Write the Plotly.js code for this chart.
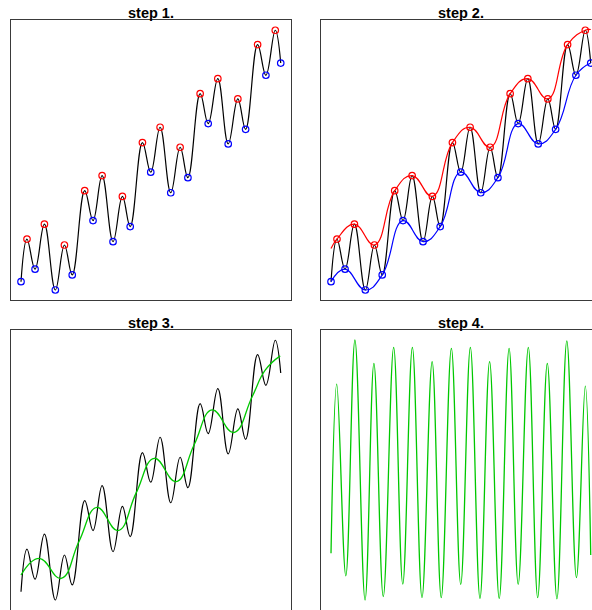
<!DOCTYPE html>
<html>
<head>
<meta charset="utf-8">
<script src="https://cdn.plot.ly/plotly-3.0.1.min.js"></script>
<style>
  html, body { margin: 0; padding: 0; overflow: hidden; background: #fff; }
  #chart { width: 602px; height: 611px; }
</style>
</head>
<body>
<div id="chart"></div>
<script>
// Signal extrema: local maxima (red) and local minima (blue), end points counted as minima
const maxT = [0.23, 0.90, 1.67, 2.45, 3.12, 3.90, 4.67, 5.35, 6.12, 6.89, 7.57, 8.34, 9.10, 9.78];
const maxY = [1.96, 2.53, 1.73, 3.82, 4.40, 3.60, 5.67, 6.26, 5.49, 7.55, 8.13, 7.35, 9.44, 9.99];
const minT = [0.00, 0.54, 1.32, 1.97, 2.77, 3.54, 4.20, 4.99, 5.76, 6.42, 7.20, 7.97, 8.64, 9.42, 9.99];
const minY = [0.32, 0.80, 0.00, 0.58, 2.67, 1.86, 2.44, 4.53, 3.74, 4.32, 6.40, 5.62, 6.18, 8.26, 8.73];

// Upper envelope values at the two ends of the record
const upperEndT = [0.00, 9.99];
const upperEndY = [1.60, 10.02];

// Mean of the two envelopes
const meanT = [0.00, 0.70, 1.54, 2.23, 2.92, 3.73, 4.43, 5.13, 5.96, 6.66, 7.35, 8.18, 8.89, 9.40, 9.97];
const meanY = [0.96, 1.60, 0.83, 2.25, 3.56, 2.67, 4.12, 5.45, 4.55, 5.97, 7.31, 6.44, 7.82, 8.85, 9.39];

// Detail left after removing the mean (start, alternating extrema, end)
const imfT = [0.00, 0.22, 0.57, 0.92, 1.31, 1.65, 2.01, 2.41, 2.76, 3.13, 3.50, 3.89, 4.24, 4.63,
              4.99, 5.36, 5.73, 6.10, 6.47, 6.85, 7.20, 7.59, 7.95, 8.32, 8.69, 9.07, 9.44, 9.78, 9.99];
const imfY = [-3.20, 3.30, -4.07, 5.00, -5.00, 4.10, -4.87, 4.72, -4.39, 4.72, -4.91, 4.17, -4.91, 4.68,
              -4.40, 4.72, -4.94, 4.17, -4.94, 4.68, -4.40, 4.72, -4.91, 4.10, -4.96, 4.97, -4.14, 3.23, -3.27];

const titles = ['step 1.', 'step 2.', 'step 3.', 'step 4.'];

// Full signal passes through every extremum in time order
const sigPts = maxT.map((t, i) => [t, maxY[i]]).concat(minT.map((t, i) => [t, minY[i]]))
  .sort((a, b) => a[0] - b[0]);
const sigT = sigPts.map(p => p[0]);
const sigY = sigPts.map(p => p[1]);

const upT = [upperEndT[0]].concat(maxT, [upperEndT[1]]);
const upY = [upperEndY[0]].concat(maxY, [upperEndY[1]]);

const BLACK = '#000000', RED = '#ff0000', BLUE = '#0000ff', GREEN = '#00c800';

function line(x, y, color, ax, smooth, width) {
  return {
    x: x, y: y, xaxis: 'x' + ax, yaxis: 'y' + ax, type: 'scatter', mode: 'lines',
    line: { color: color, width: width, shape: 'spline', smoothing: smooth },
    hoverinfo: 'skip', showlegend: false
  };
}
function rings(x, y, color, ax) {
  return {
    x: x, y: y, xaxis: 'x' + ax, yaxis: 'y' + ax, type: 'scatter', mode: 'markers',
    marker: { symbol: 'circle-open', size: 6.5, color: color, line: { width: 1.2, color: color } },
    hoverinfo: 'skip', showlegend: false
  };
}

const traces = [
  // step 1: signal with its extrema
  line(sigT, sigY, BLACK, '', 1.15, 1.2),
  rings(maxT, maxY, RED, ''),
  rings(minT, minY, BLUE, ''),
  // step 2: signal with upper and lower envelopes
  line(sigT, sigY, BLACK, '2', 1.15, 1.2),
  line(upT, upY, RED, '2', 1.3, 1.2),
  line(minT, minY, BLUE, '2', 1.3, 1.2),
  rings(maxT, maxY, RED, '2'),
  rings(minT, minY, BLUE, '2'),
  // step 3: signal with envelope mean
  line(sigT, sigY, BLACK, '3', 1.15, 1.2),
  line(meanT, meanY, GREEN, '3', 1.3, 1.3),
  // step 4: signal minus mean
  line(imfT, imfY, GREEN, '4', 1.1, 1.3)
];

const W = 590;
const dA = [0, 280 / W], dB = [310 / W, 1];
const tRange = [-0.385, 10.385];
const yRange = [-0.385, 10.385];
const imfRange = [-5.385, 5.385];

function axis(domain, range, anchor) {
  return {
    domain: domain, range: range, anchor: anchor,
    showline: true, mirror: true, linecolor: '#3a3a3a', linewidth: 1,
    showgrid: false, zeroline: false, showticklabels: false, ticks: '',
    fixedrange: true
  };
}

const layout = {
  width: 602, height: 611,
  margin: { l: 11, r: 1, t: 20, b: 1, pad: 0 },
  paper_bgcolor: '#ffffff', plot_bgcolor: '#ffffff',
  showlegend: false,
  xaxis: axis(dA, tRange, 'y'),   yaxis: axis(dB, yRange, 'x'),
  xaxis2: axis(dB, tRange, 'y2'), yaxis2: axis(dB, yRange, 'x2'),
  xaxis3: axis(dA, tRange, 'y3'), yaxis3: axis(dA, yRange, 'x3'),
  xaxis4: axis(dB, tRange, 'y4'), yaxis4: axis(dA, imfRange, 'x4'),
  annotations: titles.map((txt, i) => ({
    text: txt, showarrow: false,
    xref: (i ? 'x' + (i + 1) : 'x') + ' domain', yref: (i ? 'y' + (i + 1) : 'y') + ' domain',
    x: 0.5, y: 1, xanchor: 'center', yanchor: 'bottom', yshift: -3,
    font: { family: 'Liberation Sans, Arial, sans-serif', size: 14.5, weight: 700, color: '#000' }
  }))
};

Plotly.newPlot('chart', traces, layout, { displayModeBar: false, staticPlot: true });
</script>
</body>
</html>
